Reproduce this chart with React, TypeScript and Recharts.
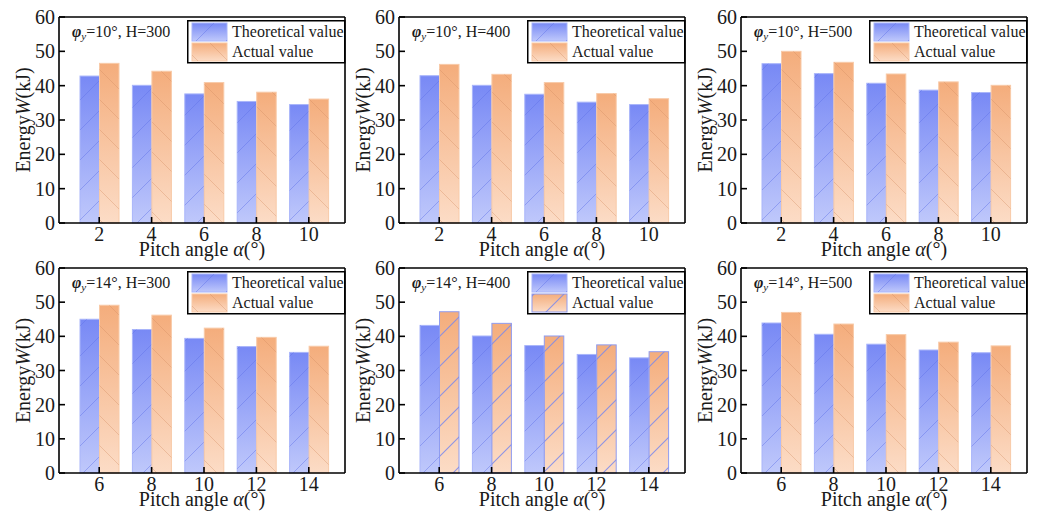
import React from "react";
import { BarChart, Bar, XAxis, YAxis } from "recharts";

// pitch angle categories (deg)
const pitchLow = ["2", "4", "6", "8", "10"];
const pitchHigh = ["6", "8", "10", "12", "14"];
const energyTicks = [0, 10, 20, 30, 40, 50, 60];

// energy W (kJ)
const theo10H300 = [42.8, 40.1, 37.6, 35.4, 34.5];
const act10H300 = [46.5, 44.2, 40.9, 38.1, 36.1];
const theo10H400 = [42.9, 40.1, 37.5, 35.2, 34.5];
const act10H400 = [46.2, 43.3, 40.9, 37.7, 36.2];
const theo10H500 = [46.4, 43.5, 40.7, 38.7, 38.0];
const act10H500 = [50.0, 46.8, 43.4, 41.1, 40.1];
const theo14H300 = [45.0, 42.0, 39.4, 37.0, 35.3];
const act14H300 = [49.1, 46.2, 42.4, 39.7, 37.1];
const theo14H400 = [43.2, 40.1, 37.3, 34.7, 33.7];
const act14H400 = [47.2, 43.8, 40.1, 37.5, 35.5];
const theo14H500 = [43.9, 40.6, 37.7, 36.0, 35.2];
const act14H500 = [47.0, 43.6, 40.5, 38.3, 37.2];

const FONT = "'Liberation Serif', 'Times New Roman', serif";
const INK = "#1a1a1a";

const panels = [
  { phi: "10", h: "300", cats: pitchLow, theo: theo10H300, act: act10H300, left: 0, top: 0, row: 0 },
  { phi: "10", h: "400", cats: pitchLow, theo: theo10H400, act: act10H400, left: 340, top: 0, row: 0 },
  { phi: "10", h: "500", cats: pitchLow, theo: theo10H500, act: act10H500, left: 682, top: 0, row: 0 },
  { phi: "14", h: "300", cats: pitchHigh, theo: theo14H300, act: act14H300, left: 0, top: 256, row: 1 },
  { phi: "14", h: "400", cats: pitchHigh, theo: theo14H400, act: act14H400, left: 340, top: 256, row: 1, blueHatch: true },
  { phi: "14", h: "500", cats: pitchHigh, theo: theo14H500, act: act14H500, left: 682, top: 256, row: 1 },
];

function SharedDefs() {
  return (
    <svg width={0} height={0} style={{ position: "absolute" }}>
      <defs>
        <linearGradient id="gTheo" x1="0" y1="0" x2="0" y2="1">
          <stop offset="0%" stopColor="#7889f5" />
          <stop offset="100%" stopColor="#bfc8fb" />
        </linearGradient>
        <linearGradient id="gAct" x1="0" y1="0" x2="0" y2="1">
          <stop offset="0%" stopColor="#f4ad7c" />
          <stop offset="100%" stopColor="#fcdcc6" />
        </linearGradient>
        <pattern id="hFwd" patternUnits="userSpaceOnUse" width={30} height={30}>
          <path d="M0,30 L30,0 M-3,3 L3,-3 M27,33 L33,27" stroke="#5f72ea" strokeOpacity={0.45} strokeWidth={1} />
        </pattern>
        <pattern id="hBack" patternUnits="userSpaceOnUse" width={30} height={30}>
          <path d="M0,0 L30,30 M-3,27 L3,33 M27,-3 L33,3" stroke="#d08a5e" strokeOpacity={0.35} strokeWidth={1} />
        </pattern>
        <pattern id="hFwdBlue" patternUnits="userSpaceOnUse" width={30} height={30}>
          <path d="M0,30 L30,0 M-3,3 L3,-3 M27,33 L33,27" stroke="#7a89ee" strokeOpacity={0.85} strokeWidth={1.1} />
        </pattern>
      </defs>
    </svg>
  );
}

const makeBarShape = (grad: string, hatch: string, edge: string) => (props: any) => {
  const { x, y, width, height } = props;
  if (!height || height <= 0) return <g />;
  return (
    <g>
      <rect x={x} y={y} width={width} height={height} fill={`url(#${grad})`} stroke={edge} strokeWidth={1} />
      <rect x={x} y={y} width={width} height={height} fill={`url(#${hatch})`} />
    </g>
  );
};

const theoShape = makeBarShape("gTheo", "hFwd", "#a9b5fa");
const actShape = makeBarShape("gAct", "hBack", "#f8caa8");
const actBlueShape = makeBarShape("gAct", "hFwdBlue", "#8f9cf0");

const XTitle = (props: any) => {
  const vb = props.viewBox || {};
  return (
    <text x={vb.x + vb.width / 2} y={vb.y + 33} textAnchor="middle" fontFamily={FONT} fontSize={20} fill={INK}>
      Pitch angle <tspan fontStyle="italic">α</tspan>(°)
    </text>
  );
};

const YTitle = (props: any) => {
  const vb = props.viewBox || {};
  const cx = vb.x + 4;
  const cy = vb.y + vb.height / 2;
  return (
    <text
      x={cx}
      y={cy}
      transform={`rotate(-90 ${cx} ${cy})`}
      textAnchor="middle"
      dominantBaseline="central"
      fontFamily={FONT}
      fontSize={20}
      fill={INK}
    >
      Energy<tspan fontStyle="italic">W</tspan>(kJ)
    </text>
  );
};

function LegendBox({ blueHatch }: { blueHatch?: boolean }) {
  return (
    <svg width={158} height={43} style={{ position: "absolute", left: 187, top: 0, overflow: "visible" }}>
      <rect x={0.75} y={0.75} width={157} height={42} fill="#fff" stroke="#000" strokeWidth={1.5} />
      <rect x={5} y={3} width={35} height={18} fill="url(#gTheo)" stroke="#a9b5fa" />
      <rect x={5} y={3} width={35} height={18} fill="url(#hFwd)" />
      <rect x={5} y={23} width={35} height={18} fill="url(#gAct)" stroke={blueHatch ? "#8f9cf0" : "#f8caa8"} />
      <rect x={5} y={23} width={35} height={18} fill={blueHatch ? "url(#hFwdBlue)" : "url(#hBack)"} />
      <text x={45} y={17} fontFamily={FONT} fontSize={16} fill={INK}>Theoretical value</text>
      <text x={45} y={37} fontFamily={FONT} fontSize={16} fill={INK}>Actual value</text>
    </svg>
  );
}

function EnergyPanel({ p }: { p: any }) {
  const data = p.cats.map((c: string, i: number) => ({ pitch: c, theo: p.theo[i], act: p.act[i] }));
  const H = p.row === 0 ? 262 : 256;
  const mt = p.row === 0 ? 16 : 11;
  const plotTop = mt + 1;
  const axisStroke = { stroke: "#000", strokeWidth: 1.6 };
  const tickStyle = { fill: INK, fontSize: 20, fontFamily: FONT };
  return (
    <div style={{ position: "absolute", left: p.left, top: p.top, width: 350, height: H }}>
      <BarChart
        width={350}
        height={H}
        data={data}
        margin={{ top: mt, right: 4, bottom: 6, left: 19 }}
        barGap={0}
        barSize={19.5}
        style={{ overflow: "visible" }}
      >
        <XAxis
          xAxisId="b"
          dataKey="pitch"
          orientation="bottom"
          height={33}
          padding={{ left: 14, right: 10 }}
          tickSize={-6}
          tickMargin={10}
          axisLine={axisStroke}
          tickLine={axisStroke}
          tick={tickStyle}
          interval={0}
          label={<XTitle />}
        />
        <XAxis
          xAxisId="t"
          dataKey="pitch"
          orientation="top"
          height={1}
          padding={{ left: 14, right: 10 }}
          tickSize={-6}
          axisLine={axisStroke}
          tickLine={axisStroke}
          tick={false}
          interval={0}
        />
        <YAxis
          yAxisId="l"
          domain={[0, 60]}
          ticks={energyTicks}
          width={40}
          tickSize={-6}
          tickMargin={10}
          axisLine={axisStroke}
          tickLine={axisStroke}
          tick={tickStyle}
          interval={0}
          label={<YTitle />}
        />
        <YAxis
          yAxisId="r"
          orientation="right"
          domain={[0, 60]}
          ticks={energyTicks}
          width={1}
          tickSize={-6}
          axisLine={axisStroke}
          tickLine={axisStroke}
          tick={false}
        />
        <Bar xAxisId="b" yAxisId="l" dataKey="theo" shape={theoShape} isAnimationActive={false} />
        <Bar xAxisId="b" yAxisId="l" dataKey="act" shape={p.blueHatch ? actBlueShape : actShape} isAnimationActive={false} />
      </BarChart>
      <div style={{ position: "absolute", left: 0, top: plotTop + 3, width: 350, height: 45 }}>
        <LegendBox blueHatch={p.blueHatch} />
      </div>
      <div
        style={{
          position: "absolute",
          left: 72,
          top: plotTop + 5,
          fontFamily: FONT,
          fontSize: 16,
          color: INK,
          lineHeight: "20px",
          whiteSpace: "nowrap",
        }}
      >
        <b><i>φ</i></b>
        <sub style={{ fontSize: 11, fontStyle: "italic", verticalAlign: "-3px" }}>y</sub>
        {`=${p.phi}°, H=${p.h}`}
      </div>
    </div>
  );
}

export default function App() {
  return (
    <div style={{ position: "absolute", left: 0, top: 0, width: 1040, height: 512, background: "#fff" }}>
      <SharedDefs />
      {panels.map((p, i) => (
        <EnergyPanel key={i} p={p} />
      ))}
    </div>
  );
}
